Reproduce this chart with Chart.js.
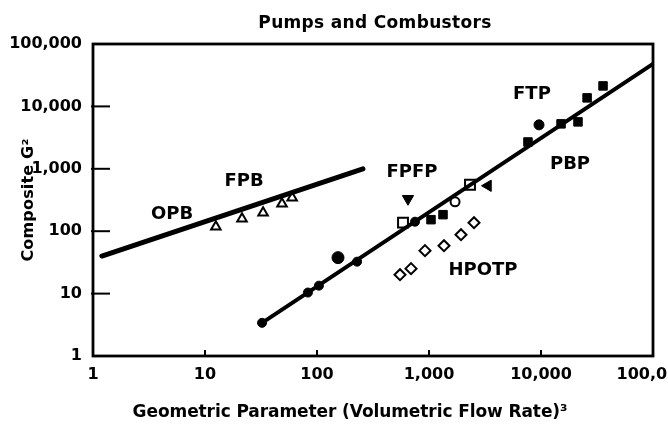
<!DOCTYPE html>
<html><head><meta charset="utf-8">
<script src="https://cdn.jsdelivr.net/npm/chart.js@4/dist/chart.umd.min.js"></script>
<style>html,body{margin:0;padding:0;background:#fff;}#wrap{width:668px;height:427px;}</style>
</head><body><div id="wrap"><canvas id="c" width="668" height="427"></canvas></div>
<script>
// ---- data ----
const tickValues = [1, 10, 100, 1000, 10000, 100000];
const titleText = 'Pumps and Combustors';
const xTitleText = 'Geometric Parameter (Volumetric Flow Rate)³';
const yTitleText = 'Composite G²';

const fitLowX  = [1.2, 257];
const fitLowY  = [40, 1000];
const fitHighX = [32.3, 100000];
const fitHighY = [3.4, 48000];

const opbX = [12.5, 21.4, 33, 48.7, 60];
const opbY = [118, 158, 198, 275, 344];

const dotX = [32.3, 83, 104, 228];
const dotY = [3.4, 10.4, 13.4, 32.5];
const bigDotX = [154];
const bigDotY = [37.7];

const fpfpX = [649];
const fpfpY = [331];

const openSqX = [586, 2323];
const openSqY = [137, 555];
const midDotX = [750];
const midDotY = [142];
const midSqX = [1042, 1334];
const midSqY = [153, 184];
const openCircX = [1708];
const openCircY = [296];
const leftTriX = [3362];
const leftTriY = [535];

const hpotpX = [551, 691, 921, 1361, 1931, 2523];
const hpotpY = [20.1, 25.1, 48.8, 58.6, 87.9, 137];

const ftpSqX = [7650, 15100, 21400, 25800, 35800];
const ftpSqY = [2690, 5250, 5650, 13700, 21300];
const ftpCircX = [9600];
const ftpCircY = [5060];

const labelText = ['OPB', 'FPB', 'FPFP', 'FTP', 'PBP', 'HPOTP'];
const labelX = [5.08, 22.3, 705, 8300, 18150, 3035];
const labelY = [184, 620, 863, 15850, 1160, 23.3];

// ---- helpers ----
const pts = (xs, ys) => xs.map((x, i) => ({x, y: ys[i]}));
const fmt = v => Number(v).toLocaleString('en-US');
const BLACK = '#000';

function marker(label, xs, ys, style, radius, filled, rotation) {
  return {
    type: 'scatter', label, data: pts(xs, ys),
    pointStyle: style, pointRadius: radius, pointHoverRadius: radius,
    pointRotation: rotation || 0,
    backgroundColor: filled ? BLACK : '#fff', borderColor: BLACK,
    pointBorderWidth: filled ? 1 : 2, borderWidth: filled ? 1 : 2
  };
}

function fitText(ctx, text, target) {
  ctx.letterSpacing = '0px';
  const w = ctx.measureText(text).width;
  const n = [...text].length;
  const sp = Math.max(-1, (target - w) / Math.max(1, n - 1));
  ctx.letterSpacing = sp.toFixed(2) + 'px';
}

const decor = {
  id: 'decor',
  afterDatasetsDraw(chart) {
    const {ctx, chartArea: a, scales: {x, y}} = chart;
    ctx.save();
    // frame
    ctx.strokeStyle = BLACK; ctx.lineWidth = 2.8;
    ctx.strokeRect(a.left, a.top, a.right - a.left, a.bottom - a.top);
    // inward ticks
    ctx.lineWidth = 2;
    tickValues.slice(1, -1).forEach(v => {
      const py = y.getPixelForValue(v);
      ctx.beginPath(); ctx.moveTo(a.left - 2, py); ctx.lineTo(a.left + 17, py); ctx.stroke();
      const px = x.getPixelForValue(v);
      ctx.beginPath(); ctx.moveTo(px, a.bottom); ctx.lineTo(px, a.bottom - 6); ctx.stroke();
    });
    ctx.fillStyle = BLACK;
    // in-plot labels
    ctx.font = 'bold 18px "DejaVu Sans"';
    ctx.textAlign = 'center'; ctx.textBaseline = 'middle';
    labelText.forEach((t, i) => {
      ctx.letterSpacing = '0px';
      ctx.fillText(t, x.getPixelForValue(labelX[i]), y.getPixelForValue(labelY[i]));
    });
    // title
    const cx = (a.left + a.right) / 2;
    ctx.font = 'bold 17px "DejaVu Sans"';
    ctx.textBaseline = 'alphabetic';
    fitText(ctx, titleText, 233);
    ctx.fillText(titleText, cx + 2, 28);
    // x axis title
    ctx.font = 'bold 17px "DejaVu Sans"';
    fitText(ctx, xTitleText, 435);
    ctx.fillText(xTitleText, 350, 417);
    // y axis title
    ctx.translate(29, (a.top + a.bottom) / 2);
    ctx.rotate(-Math.PI / 2);
    ctx.font = 'bold 16px "DejaVu Sans"';
    ctx.textBaseline = 'middle';
    fitText(ctx, yTitleText, 123);
    ctx.fillText(yTitleText, 0, 0);
    ctx.restore();
  }
};

const tickFont = {family: '"DejaVu Sans"', size: 16, weight: 'bold'};

new Chart(document.getElementById('c'), {
  type: 'scatter',
  data: {
    datasets: [
      {type: 'line', label: 'OPB/FPB fit', data: pts(fitLowX, fitLowY), borderColor: BLACK, borderWidth: 5, pointRadius: 0, borderCapStyle: 'round', fill: false},
      {type: 'line', label: 'PBP fit', data: pts(fitHighX, fitHighY), borderColor: BLACK, borderWidth: 4, pointRadius: 0, borderCapStyle: 'round', fill: false},
      marker('OPB/FPB', opbX, opbY, 'triangle', 5.5, false),
      marker('dots', dotX, dotY, 'circle', 4.5, true),
      marker('dot', bigDotX, bigDotY, 'circle', 6, true),
      marker('FPFP', fpfpX, fpfpY, 'triangle', 6.5, true, 180),
      marker('open squares', openSqX, openSqY, 'rect', 7, false),
      marker('mid dot', midDotX, midDotY, 'circle', 4.5, true),
      marker('mid squares', midSqX, midSqY, 'rect', 6, true),
      marker('open circle', openCircX, openCircY, 'circle', 4.5, false),
      marker('left triangle', leftTriX, leftTriY, 'triangle', 6.5, true, -90),
      marker('HPOTP', hpotpX, hpotpY, 'rectRot', 5.5, false),
      marker('FTP squares', ftpSqX, ftpSqY, 'rect', 6, true),
      marker('FTP circle', ftpCircX, ftpCircY, 'circle', 5, true)
    ]
  },
  options: {
    responsive: false, animation: false, devicePixelRatio: 1,
    layout: {padding: {top: 44, right: 15, left: 0, bottom: 0}},
    plugins: {legend: {display: false}, title: {display: false}, tooltip: {enabled: false}},
    scales: {
      x: {
        type: 'logarithmic', min: 1, max: 100000,
        grid: {display: false, drawTicks: false},
        border: {display: false},
        ticks: {color: BLACK, font: tickFont, padding: 9, maxRotation: 0, autoSkip: false, callback: v => fmt(v)},
        afterBuildTicks: s => { s.ticks = tickValues.map(v => ({value: v})); },
        afterFit: s => { s.height = 71; s.paddingLeft = 0; s.paddingRight = 0; }
      },
      y: {
        type: 'logarithmic', min: 1, max: 100000,
        grid: {display: false, drawTicks: false},
        border: {display: false},
        ticks: {color: BLACK, font: tickFont, padding: 11, autoSkip: false, callback: v => fmt(v)},
        afterBuildTicks: s => { s.ticks = tickValues.map(v => ({value: v})); },
        afterFit: s => { s.width = 93; s.paddingTop = 0; s.paddingBottom = 0; }
      }
    }
  },
  plugins: [decor]
});
</script>
</body></html>
